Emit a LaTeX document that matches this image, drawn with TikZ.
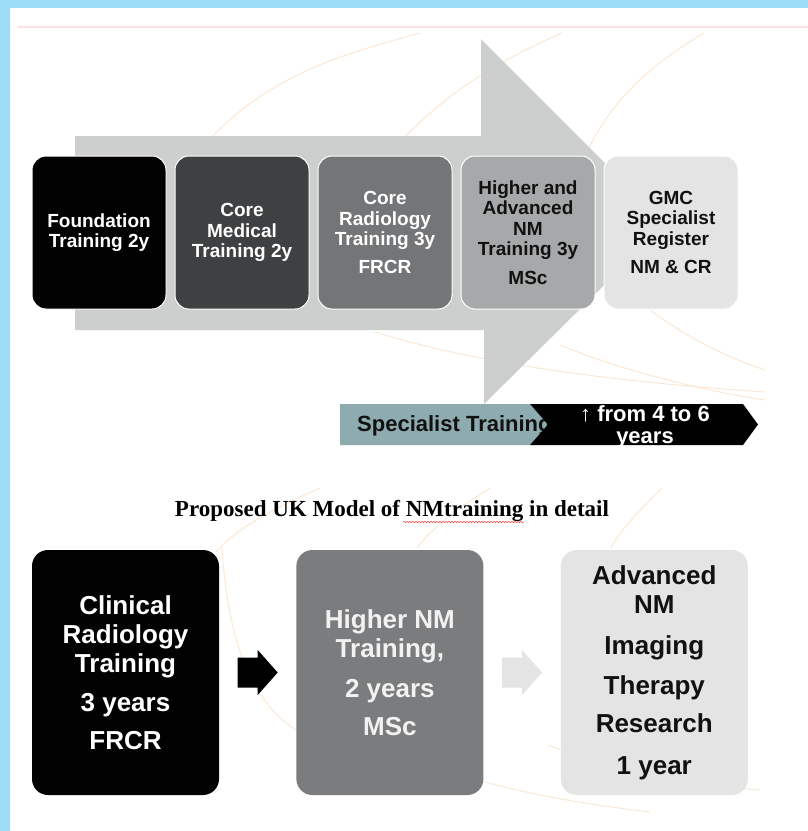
\documentclass[tikz,border=0pt]{standalone}
\usepackage{fontspec}
\setsansfont{Liberation Sans}
\newfontfamily\titlefont{Liberation Serif}
\usetikzlibrary{positioning,decorations.pathmorphing}
\definecolor{slideblue}{RGB}{157,220,246}
\definecolor{swirlorange}{RGB}{251,232,212}
\definecolor{rulepink}{RGB}{248,226,226}
\definecolor{arrowgray}{RGB}{205,207,207}
\definecolor{stageA}{RGB}{2,2,2}
\definecolor{stageB}{RGB}{62,64,66}
\definecolor{stageC}{RGB}{115,117,119}
\definecolor{stageD}{RGB}{166,168,169}
\definecolor{stageE}{RGB}{228,228,228}
\definecolor{bannerteal}{RGB}{142,172,176}
\definecolor{inkdark}{RGB}{17,17,17}
\newcommand\stagefont{\sffamily\bfseries\fontsize{19}{20.5}\selectfont}
\newcommand\bigstagefont{\sffamily\bfseries\fontsize{26}{29}\selectfont}
\newcommand\bannerfont{\sffamily\bfseries\fontsize{22}{22}\selectfont}
\tikzset{
  stage/.style = {align=center, inner sep=0pt, text centered,
    rounded corners=14pt, minimum width=134pt, minimum height=153pt,
    draw=white, line width=1pt, font=\stagefont},% top row
  bigstage/.style = {align=center, inner sep=0pt, text centered,
    rounded corners=16pt, minimum width=187pt, minimum height=245pt,
    font=\bigstagefont},% bottom row
  swirl/.style = {draw=swirlorange, line width=1pt},
}
\begin{document}
\begin{tikzpicture}[x=1pt,y=-1pt]
\useasboundingbox (0,0) rectangle (808,831);
\fill[white] (0,0) rectangle (808,831);
\fill[slideblue] (0,0) rectangle (808,8);
\fill[slideblue] (0,0) rectangle (10,831);
\draw[rulepink, line width=1.2pt] (18,27) -- (808,27);
% faint swirls in the background
\draw[swirl] (209,140) .. controls (270,75) and (340,55) .. (420,33);
\draw[swirl] (402,140) .. controls (450,90) and (500,60) .. (562,33);
\draw[swirl] (588,150) .. controls (612,100) and (650,65) .. (704,33);
\draw[swirl] (650,310) .. controls (690,340) and (730,358) .. (765,370);
\draw[swirl] (375,332) .. controls (450,355) and (560,378) .. (765,392);
\draw[swirl] (560,345) .. controls (620,370) and (700,390) .. (765,400);
\draw[swirl] (320,488) .. controls (270,510) and (235,530) .. (216,552);
\draw[swirl] (490,488) .. controls (455,510) and (430,530) .. (417,548);
\draw[swirl] (662,488) .. controls (640,510) and (620,530) .. (611,548);
\draw[swirl] (222,548) .. controls (228,640) and (250,700) .. (296,730);
\draw[swirl] (485,782) .. controls (540,797) and (600,806) .. (650,812);
\draw[swirl] (548,745) .. controls (620,772) and (700,786) .. (760,790);
% big arrow behind the stages
\fill[arrowgray] (75,136) -- (481,136) -- (481,39) -- (666,224)
  -- (484,404) -- (484,330) -- (75,330) -- cycle;
% top row
\node[stage, fill=stageA, text=white] (found) at (99,232.5)
  {Foundation\\Training 2y};
\node[stage, fill=stageB, text=white, right=8pt of found] (coremed)
  {Core\\Medical\\Training 2y};
\node[stage, fill=stageC, text=white, right=8pt of coremed] (corerad)
  {Core\\Radiology\\Training 3y\\[7pt]FRCR};
\node[stage, fill=stageD, text=inkdark, right=8pt of corerad] (highadv)
  {Higher and\\Advanced\\NM\\Training 3y\\[8pt]MSc};
\node[stage, fill=stageE, text=inkdark, right=8pt of highadv] (gmc)
  {GMC\\Specialist\\Register\\[8pt]NM \& CR};
% specialist training banner
\fill[bannerteal] (340,404) -- (530,404) -- (548,424.5) -- (530,445)
  -- (340,445) -- cycle;
\node[anchor=west, inner sep=0pt, text=inkdark, font=\bannerfont]
  (spec) at (357,426) {Specialist Training};
\fill[black] (530,404) -- (743,404) -- (758,424.5) -- (743,445)
  -- (530,445) -- (548,424.5) -- cycle;
\node[align=center, inner sep=0pt, text=white, font=\bannerfont]
  (years) at (645,427) {↑ from 4 to 6\\years};
% title
\node[font=\titlefont\bfseries\fontsize{23}{26}\selectfont, inner sep=0pt]
  (title) at (392,511) {Proposed UK Model of NMtraining in detail};
\draw[red!75, line width=0.5pt, decorate,
  decoration={snake, amplitude=0.7pt, segment length=3pt}]
  (403,522) -- (524,522);
% bottom row
\node[bigstage, fill=stageA, text=white] (clin) at (125.5,672.5)
  {Clinical\\Radiology\\Training\\[10pt]3 years\\[9pt]FRCR};
\node[bigstage, fill={rgb,255:red,122;green,124;blue,126},
  text={rgb,255:red,242;green,242;blue,242}, right=77pt of clin] (nmhigh)
  {Higher NM\\Training,\\[11pt]2 years\\[9pt]MSc};
\node[bigstage, fill=stageE, text=inkdark, right=77pt of nmhigh] (advnm)
  {Advanced\\NM\\[12pt]Imaging\\[11pt]Therapy\\[9pt]Research\\[13pt]1 year};
% block arrows between the boxes
\path (clin.east) -- (nmhigh.west) coordinate[midway] (arrA);
\path (nmhigh.east) -- (advnm.west) coordinate[midway] (arrB);
\fill[black] (arrA) ++(-20,-15) -- ++(20,0) -- ++(0,-7.5) -- ++(20,22.5)
  -- ++(-20,22.5) -- ++(0,-7.5) -- ++(-20,0) -- cycle;
\fill[stageE] (arrB) ++(-20,-15) -- ++(20,0) -- ++(0,-7.5) -- ++(20,22.5)
  -- ++(-20,22.5) -- ++(0,-7.5) -- ++(-20,0) -- cycle;
\end{tikzpicture}
\end{document}
